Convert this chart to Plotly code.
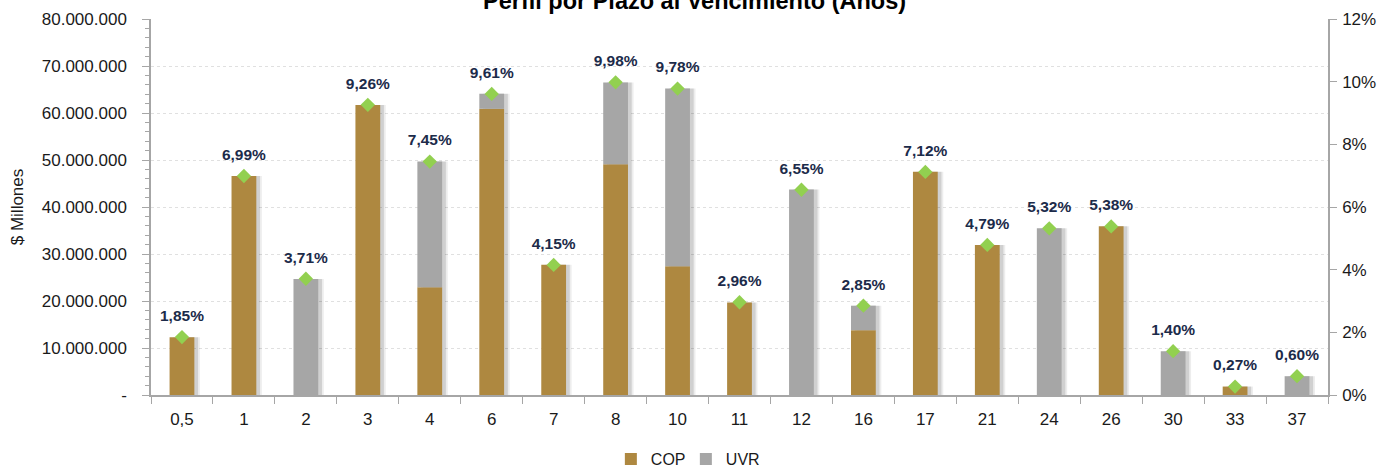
import plotly.graph_objects as go

categories = ["0,5", "1", "2", "3", "4", "6", "7", "8", "10", "11", "12", "16", "17", "21", "24", "26", "30", "33", "37"]
cop = [12300000, 46600000, 0, 61700000, 22900000, 60900000, 27700000, 49100000, 27400000, 19700000, 0, 13800000, 47500000, 31900000, 0, 35900000, 0, 1800000, 0]
uvr = [0, 0, 24700000, 0, 26800000, 3200000, 0, 17400000, 37800000, 0, 43700000, 5200000, 0, 0, 35500000, 0, 9300000, 0, 4000000]
share_pct = [1.85, 6.99, 3.71, 9.26, 7.45, 9.61, 4.15, 9.98, 9.78, 2.96, 6.55, 2.85, 7.12, 4.79, 5.32, 5.38, 1.40, 0.27, 0.60]

left_ticks = [0, 10000000, 20000000, 30000000, 40000000, 50000000, 60000000, 70000000, 80000000]
left_ticktext = ["-" if v == 0 else f"{v:,}".replace(",", ".") for v in left_ticks]
right_ticks = [0, 2, 4, 6, 8, 10, 12]
right_ticktext = [f"{v}%" for v in right_ticks]

COP_COLOR = "#AE8840"
UVR_COLOR = "#A6A6A6"
FONT = "Liberation Sans"

totals = [c + u for c, u in zip(cop, uvr)]
labels = [f"{p:.2f}".replace(".", ",") + "%" for p in share_pct]

fig = go.Figure()
BW = 0.4
# soft shadow (two layers)
for shift, alpha in [(0.09, 0.07), (0.06, 0.12)]:
    fig.add_trace(go.Bar(x=categories, y=totals, width=BW, offset=-BW / 2 + shift,
                         marker=dict(color=f"rgba(0,0,0,{alpha})", line_width=0),
                         showlegend=False, hoverinfo="skip"))
fig.add_trace(go.Bar(x=categories, y=cop, name="COP", width=BW, offset=-BW / 2,
                     marker=dict(color=COP_COLOR, line_width=0)))
fig.add_trace(go.Bar(x=categories, y=uvr, base=cop, name="UVR", width=BW, offset=-BW / 2,
                     marker=dict(color=UVR_COLOR, line_width=0)))
# labels (invisible larger marker to lift text)
fig.add_trace(go.Scatter(x=categories, y=share_pct, yaxis="y2", mode="markers+text",
                         text=labels, textposition="top center",
                         textfont=dict(family=FONT, size=15.5, color="#1C2B4A", weight="bold"),
                         marker=dict(size=18, color="rgba(0,0,0,0)"),
                         showlegend=False, cliponaxis=False, hoverinfo="skip"))
fig.add_trace(go.Scatter(x=categories, y=share_pct, yaxis="y2", mode="markers",
                         marker=dict(symbol="diamond", size=11, color="#92D050"),
                         showlegend=False, cliponaxis=False))

fig.update_layout(
    width=1380, height=470,
    barmode="overlay",
    plot_bgcolor="white", paper_bgcolor="white",
    margin=dict(l=151, r=52, t=19, b=75, autoexpand=False),
    font=dict(family=FONT, size=17, color="#1a1a1a"),
    separators=",.",
    legend=dict(orientation="h", xref="container", yref="container", x=0.497, y=0.023,
                xanchor="center", yanchor="middle", font=dict(size=16), traceorder="normal",
                itemwidth=30, entrywidth=30, entrywidthmode="pixels"),
    annotations=[dict(text="<b>Perfil por Plazo al Vencimiento (Años)</b>", xref="paper", yref="paper",
                      x=0.462, y=1.049, xanchor="center", yanchor="middle", showarrow=False,
                      font=dict(size=23.5, family=FONT, color="#000000"))],
    xaxis=dict(type="category", range=[-0.5, 18.5], showline=True, linecolor="#A6A6A6", linewidth=1.5,
               ticks="outside", tickson="boundaries", ticklen=7, tickcolor="#A6A6A6",
               showgrid=False, tickfont=dict(size=17), ticklabelstandoff=8, automargin=False),
    yaxis=dict(range=[0, 80000000], tickvals=left_ticks, ticktext=left_ticktext,
               showline=True, linecolor="#A6A6A6", linewidth=1.5, ticks="outside",
               ticklen=7, tickcolor="#A6A6A6", showgrid=True, gridcolor="#E0E0E0",
               griddash="dot", gridwidth=1, zeroline=False, automargin=False,
               minor=dict(dtick=2000000, ticks="outside", ticklen=4, tickcolor="#A6A6A6", showgrid=False),
               title=dict(text="$ Millones", font=dict(size=17), standoff=14),
               tickfont=dict(size=17), ticklabelstandoff=12),
    yaxis2=dict(range=[0, 12], tickvals=right_ticks, ticktext=right_ticktext, overlaying="y",
                side="right", showline=True, linecolor="#A6A6A6", linewidth=1.5,
                ticks="outside", ticklen=7, tickcolor="#A6A6A6", showgrid=False, automargin=False,
                zeroline=False, tickfont=dict(size=17), ticklabelstandoff=2),
)

fig.write_html("out.html", config={"displayModeBar": False},
               post_script="document.body.style.margin='0';document.body.style.overflow='hidden';")
